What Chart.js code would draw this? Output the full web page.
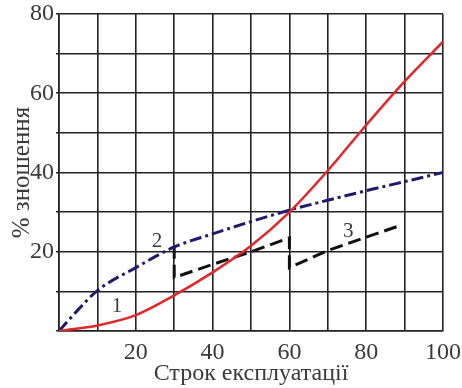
<!DOCTYPE html>
<html>
<head>
<meta charset="utf-8">
<script src="https://cdn.jsdelivr.net/npm/chart.js@4"></script>
<style>
  html, body { margin: 0; padding: 0; background: #fff; }
  #wrap { width: 462px; height: 388px; }
</style>
</head>
<body>
<div id="wrap"><canvas id="wear-chart"></canvas></div>
<script>
// curve 1 - red solid
const redX = [0, 10, 20, 30, 40, 50, 60, 70, 80, 90, 100];
const redY = [0, 1.4, 4, 9, 14.8, 21.5, 30, 40.5, 52, 63, 73];

// curve 2 - blue dash-dot
const blueX = [0, 5, 10, 20, 30, 40, 50, 60, 70, 80, 90, 100];
const blueY = [0, 5.4, 10.2, 16, 21.2, 24.5, 27.6, 30.5, 33, 35.4, 37.7, 40];

// curve 3 - black dashed (with restorations)
const blackX = [30, 30, 40, 50, 60, 60, 70, 80, 88.5];
const blackY = [21.5, 13.5, 16.8, 20, 23.5, 16, 20.3, 23.7, 26.5];

// curve numbers
const tagText = ['1', '2', '3'];
const tagX = [15.1, 25.5, 75.3];
const tagY = [6.3, 22.7, 25];

const xTitle = 'Строк експлуатації';
const yTitle = '% зношення';

function pts(xs, ys) {
    return xs.map((x, i) => ({ x: x, y: ys[i] }));
}

const serif = "'Liberation Serif', 'DejaVu Serif', serif";
const textColor = '#3a3a3a';

const tagPlugin = {
    id: 'tags',
    afterDatasetsDraw(chart) {
        const ctx = chart.ctx;
        const xs = chart.scales.x;
        const ys = chart.scales.y;
        ctx.save();
        ctx.font = '21px ' + serif;
        ctx.fillStyle = textColor;
        ctx.textAlign = 'center';
        ctx.textBaseline = 'middle';
        tagText.forEach((t, i) => {
            ctx.fillText(t, xs.getPixelForValue(tagX[i]), ys.getPixelForValue(tagY[i]));
        });
        ctx.restore();
    }
};

new Chart(document.querySelector('#wear-chart').getContext('2d'), {
    type: 'line',
    data: {
        datasets: [
            {
                label: '1',
                data: pts(redX, redY),
                borderColor: '#e3262c',
                borderWidth: 2.5,
                pointRadius: 0,
                cubicInterpolationMode: 'monotone'
            },
            {
                label: '2',
                data: pts(blueX, blueY),
                borderColor: '#1f1b6b',
                borderWidth: 3,
                borderDash: [12, 4, 3, 4],
                pointRadius: 0,
                cubicInterpolationMode: 'monotone'
            },
            {
                label: '3',
                data: pts(blackX, blackY),
                borderColor: '#111111',
                borderWidth: 3,
                borderDash: [13, 6],
                pointRadius: 0,
                tension: 0
            }
        ]
    },
    options: {
        responsive: true,
        maintainAspectRatio: false,
        animation: false,
        layout: { padding: 0 },
        plugins: {
            legend: { display: false },
            tooltip: { enabled: false }
        },
        scales: {
            x: {
                type: 'linear',
                min: 0,
                max: 100,
                afterFit(scale) {
                    scale.height = 57;
                    scale.paddingRight = 19;
                    scale.paddingLeft = 0;
                },
                grid: { color: '#222', lineWidth: 1.6, drawTicks: false },
                border: { color: '#222', width: 1.6 },
                ticks: {
                    stepSize: 10,
                    autoSkip: false,
                    maxRotation: 0,
                    padding: 7,
                    color: textColor,
                    font: { family: serif, size: 24 },
                    callback: v => (v !== 0 && v % 20 === 0) ? v : ''
                },
                title: {
                    display: true,
                    text: xTitle,
                    color: textColor,
                    font: { family: serif, size: 24 },
                    padding: { top: 0, bottom: 0 }
                }
            },
            y: {
                min: 0,
                max: 80,
                afterFit(scale) {
                    scale.width = 59;
                    scale.paddingTop = 14;
                    scale.paddingBottom = 0;
                },
                grid: { color: '#222', lineWidth: 1.6, tickLength: 3 },
                border: { color: '#222', width: 1.6 },
                ticks: {
                    stepSize: 10,
                    autoSkip: false,
                    padding: 2,
                    color: textColor,
                    font: { family: serif, size: 24 },
                    callback: v => (v !== 0 && v % 20 === 0) ? v : ''
                },
                title: {
                    display: true,
                    text: yTitle,
                    color: textColor,
                    font: { family: serif, size: 25 },
                    padding: { top: 7, bottom: 0 }
                }
            }
        }
    },
    plugins: [tagPlugin]
});
</script>
</body>
</html>
